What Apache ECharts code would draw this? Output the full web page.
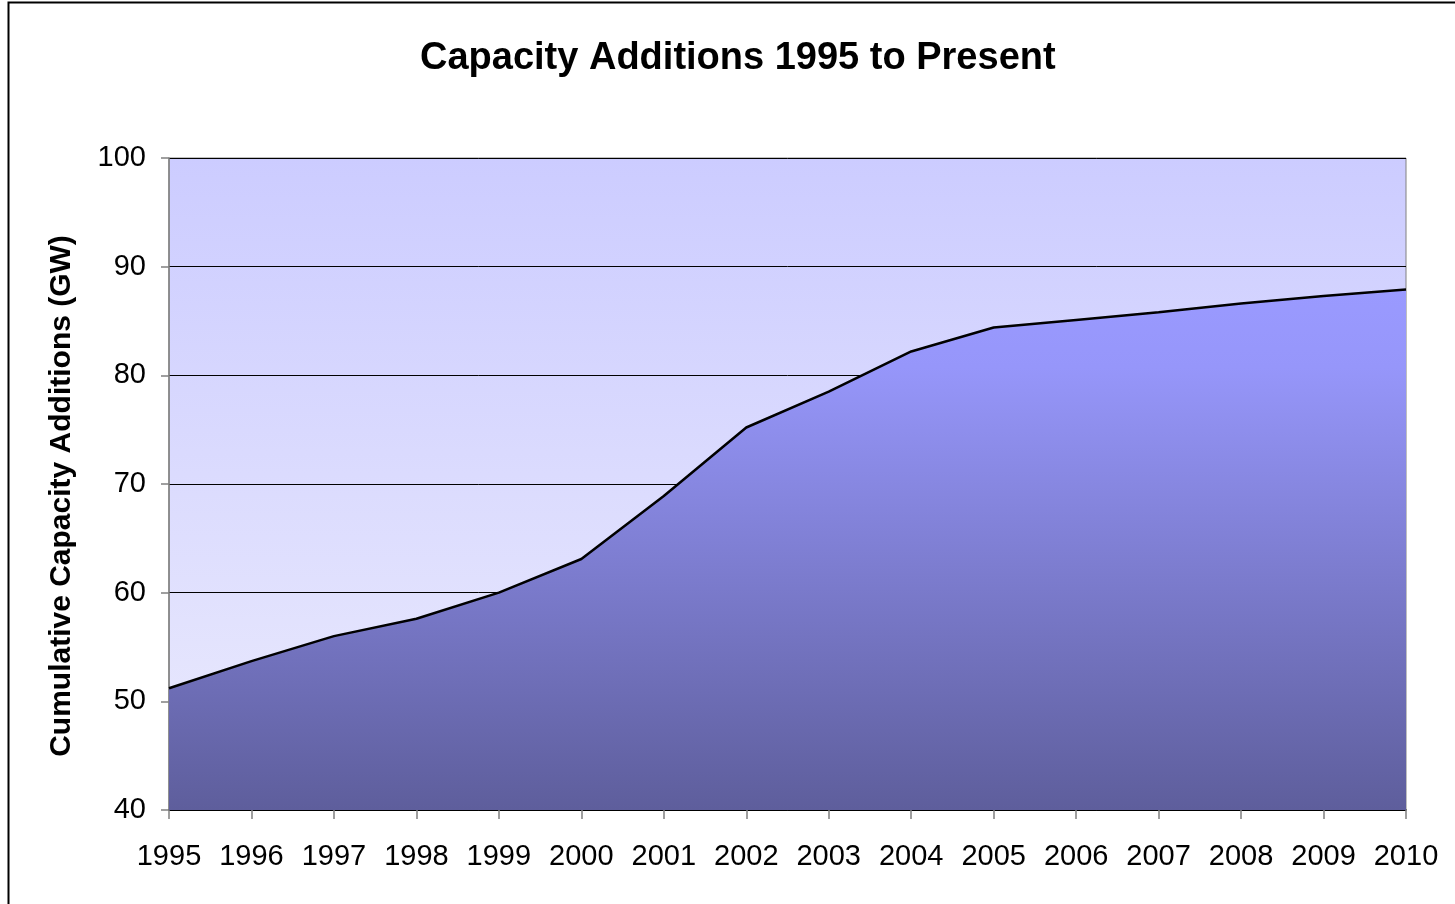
<!DOCTYPE html>
<html>
<head>
<meta charset="utf-8">
<style>
  html, body { margin: 0; padding: 0; background: #fff; }
  #chart { width: 1455px; height: 904px; }
</style>
<script src="https://cdn.jsdelivr.net/npm/echarts@6/dist/echarts.min.js"></script>
</head>
<body>
<div id="chart"></div>
<script>
// Years along the horizontal axis
const years = ['1995','1996','1997','1998','1999','2000','2001','2002',
               '2003','2004','2005','2006','2007','2008','2009','2010'];
// Cumulative capacity additions, GW
const capacityGW = [51.2, 53.7, 56.0, 57.6, 60.0, 63.1, 68.9, 75.2,
                    78.5, 82.2, 84.4, 85.1, 85.8, 86.6, 87.3, 87.9];
// Value axis range
const yMin = 40, yMax = 100, yStep = 10;

const FONT = '"Liberation Sans", Arial, sans-serif';
const chart = echarts.init(document.getElementById('chart'), null, { renderer: 'canvas' });

chart.setOption({
  backgroundColor: '#ffffff',
  animation: false,
  title: {
    text: 'Capacity Additions 1995 to Present',
    left: 415,
    top: 35,
    textStyle: { fontFamily: FONT, fontSize: 38, fontWeight: 'bold', color: '#000' }
  },
  graphic: [{
    type: 'rect',
    shape: { x: 8.5, y: 2.5, width: 1460, height: 920 },
    style: { fill: 'none', stroke: '#000', lineWidth: 2 },
    silent: true
  }],
  grid: {
    left: 169, right: 49, top: 158, bottom: 94,
    show: true,
    borderColor: '#808080',
    borderWidth: 1,
    backgroundColor: {
      type: 'linear', x: 0, y: 0, x2: 0, y2: 1,
      colorStops: [
        { offset: 0, color: '#ccccff' },
        { offset: 1, color: '#ebebfd' }
      ]
    }
  },
  xAxis: {
    type: 'category',
    data: years,
    boundaryGap: false,
    axisLine: { lineStyle: { color: '#000', width: 1.5 } },
    axisTick: { show: true, interval: 0, length: 9, lineStyle: { color: '#808080', width: 1.5 } },
    axisLabel: { interval: 0, hideOverlap: false, fontFamily: FONT, fontSize: 29, color: '#000', margin: 32 },
    splitLine: { show: false }
  },
  yAxis: {
    type: 'value',
    min: yMin, max: yMax, interval: yStep,
    name: 'Cumulative Capacity Additions (GW)',
    nameLocation: 'middle',
    nameGap: 92,
    nameTextStyle: { fontFamily: FONT, fontSize: 30, fontWeight: 'bold', color: '#000', padding: [0, 24, 0, 0] },
    axisLine: { show: true, lineStyle: { color: '#808080', width: 1.5 } },
    axisTick: { show: true, length: 8, lineStyle: { color: '#808080', width: 1.5 } },
    axisLabel: { fontFamily: FONT, fontSize: 29, color: '#000', margin: 23 },
    splitLine: { show: true, lineStyle: { color: '#000', width: 1 } }
  },
  series: [{
    type: 'line',
    data: capacityGW,
    symbol: 'none',
    smooth: false,
    lineStyle: { color: '#000', width: 2.5 },
    areaStyle: {
      opacity: 1,
      color: {
        type: 'linear', x: 0, y: 0, x2: 0, y2: 1,
        colorStops: [
          { offset: 0, color: '#9a9aff' },
          { offset: 0.15, color: '#9696fa' },
          { offset: 1, color: '#5e5e9c' }
        ]
      }
    },
    z: 3
  }]
});
</script>
</body>
</html>
